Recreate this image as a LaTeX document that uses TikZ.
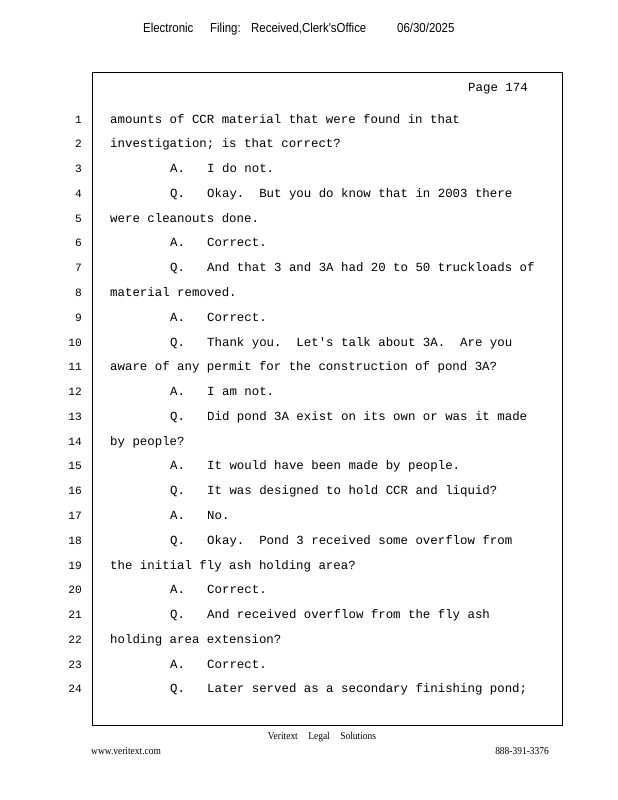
\documentclass[tikz,border=0pt]{standalone}
\usepackage{fontspec}
\newfontfamily\depofont[Ligatures=TeXOff]{Liberation Mono}
\newfontfamily\headfont[Ligatures=TeXOff,FakeStretch=0.88]{Liberation Sans}
\newfontfamily\footfont[FakeStretch=0.9]{Liberation Serif}
\usepackage{tikz}
\usetikzlibrary{positioning}
\frenchspacing

\begin{document}
\begin{tikzpicture}[x=1pt,y=-1pt,
  depo/.style={font=\depofont\fontsize{12.4}{14}\selectfont,anchor=base west,inner sep=0pt},
  lineno/.style={font=\depofont\fontsize{11.2}{13}\selectfont,anchor=base east,inner sep=0pt},
  head/.style={font=\headfont\fontsize{13}{15}\selectfont,anchor=base west,inner sep=0pt},
  foot/.style={font=\footfont\fontsize{10.5}{12}\selectfont,inner sep=0pt}]
  \useasboundingbox (0,0) rectangle (618,800);
  \pgfmathsetmacro{\B}{123}     % baseline of line 1
  \pgfmathsetmacro{\D}{24.78}   % line pitch

  % filing stamp
  \node[head] (stampa) at (143,33) {Electronic};
  \node[head] (stampb) at (210,33) {Filing:};
  \node[head] (stampc) at (251,33) {Received,Clerk'sOffice};
  \node[head] (stampd) at (397,33) {06/30/2025};

  % page frame
  \draw[line width=1pt] (92,72) rectangle (562,725);
  \node[depo] (page) at (468,92) {Page 174};

  % line numbers
  \foreach \n in {1,...,24}{
    \node[lineno] (n\n) at (82,\B+\D*\n-\D) {\n};
  }

  % lines that run on from the margin
  \foreach \n/\said in {1/amounts of CCR material that were found in that,
      2/investigation; is that correct?,
      5/were cleanouts done.,
      8/material removed.,
      11/aware of any permit for the construction of pond 3A?,
      14/by people?,
      19/the initial fly ash holding area?,
      22/holding area extension?}{
    \node[depo] (t\n) at (110,\B+\D*\n-\D) {\said};
  }

  % question and answer lines
  \foreach \n/\who/\said in {3/A./I do not.,
      4/Q./Okay.~ But you do know that in 2003 there,
      6/A./Correct.,
      7/Q./And that 3 and 3A had 20 to 50 truckloads of,
      9/A./Correct.,
      10/Q./Thank you.~ Let's talk about 3A.~ Are you,
      12/A./I am not.,
      13/Q./Did pond 3A exist on its own or was it made,
      15/A./It would have been made by people.,
      16/Q./It was designed to hold CCR and liquid?,
      17/A./No.,
      18/Q./Okay.~ Pond 3 received some overflow from,
      20/A./Correct.,
      21/Q./And received overflow from the fly ash,
      23/A./Correct.,
      24/Q./Later served as a secondary finishing pond;}{
    \node[depo] (s\n) at (170,\B+\D*\n-\D) {\who};
    \node[depo] (t\n) at (207,\B+\D*\n-\D) {\said};
  }

  % footer
  \node[foot,anchor=base] (firm) at (322,739) {Veritext\quad Legal\quad Solutions};
  \node[foot,anchor=base west] (web) at (91,754) {www.veritext.com};
  \node[foot,anchor=base east] (phone) at (549,754) {888-391-3376};
\end{tikzpicture}
\end{document}
